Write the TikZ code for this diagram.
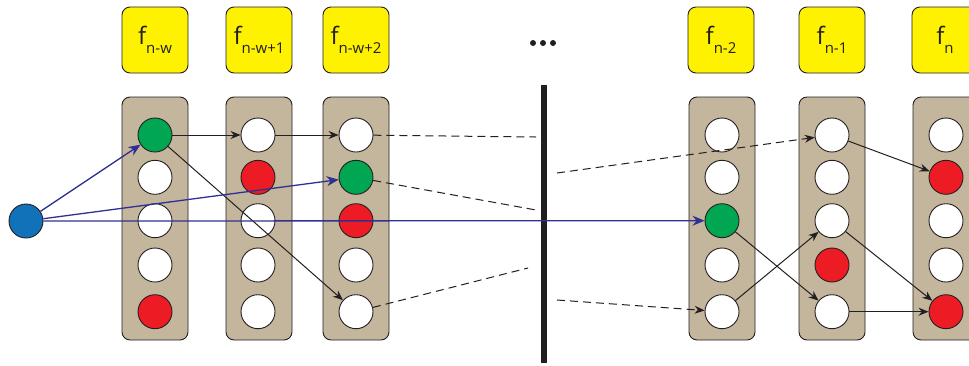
\documentclass[tikz,border=0pt]{standalone}
\usepackage{fontspec}
\setmainfont{Open Sans}
\usetikzlibrary{arrows.meta}
\definecolor{boxtan}{RGB}{196,181,157}
\definecolor{fyellow}{RGB}{255,242,0}
\definecolor{cgreen}{RGB}{0,166,81}
\definecolor{cred}{RGB}{237,28,36}
\definecolor{cblue}{RGB}{17,114,186}
\definecolor{abl}{RGB}{46,49,146}
\definecolor{dark}{RGB}{35,31,32}
\newcommand{\fsub}[1]{{\fontsize{24}{24}\selectfont f}\raisebox{-9pt}{\fontsize{15}{15}\selectfont #1}}
\begin{document}
\begin{tikzpicture}[x=1pt,y=-1pt,
  colbox/.style={draw=dark, line width=0.9pt, fill=boxtan, rounded corners=8pt, minimum width=66pt, minimum height=243pt, inner sep=0pt},
  fbox/.style={draw=dark, line width=0.9pt, fill=fyellow, rounded corners=8pt, minimum width=66pt, minimum height=66pt, inner sep=0pt, text=dark},
  cell/.style={circle, draw=dark, line width=0.9pt, minimum size=34pt, inner sep=0pt, fill=white},
  arr/.style={-{Stealth[length=10pt,width=8pt]}, line width=1pt, draw=dark},
  barr/.style={-{Stealth[length=12pt,width=10pt]}, line width=1.3pt, draw=abl},
  dsh/.style={dash pattern=on 8pt off 5pt, line width=1pt, draw=dark},
  dsharr/.style={dsh, -{Stealth[length=10pt,width=8pt]}}
]
\useasboundingbox (0,0) rectangle (969,365);
% yellow function boxes
\node[fbox] (f1) at (155,40) {\fsub{n-w}};
\node[fbox] (f2) at (259,40) {\fsub{n-w+1}};
\node[fbox] (f3) at (356,40) {\fsub{n-w+2}};
\node[fbox] (f4) at (721,40) {\fsub{n-2}};
\node[fbox] (f5) at (832,40) {\fsub{n-1}};
\node[fbox] (f6) at (945,40) {\fsub{n}};
% dots
\fill[dark] (533,43) circle (3pt) (543,43) circle (3pt) (553,43) circle (3pt);
% column boxes
\node[colbox] (b1) at (155,218.5) {};
\node[colbox] (b2) at (259,218.5) {};
\node[colbox] (b3) at (356,218.5) {};
\node[colbox] (b4) at (722,218.5) {};
\node[colbox] (b5) at (832,218.5) {};
\node[colbox] (b6) at (946,218.5) {};
% cells
\foreach \c/\x/\cols in {1/155/{cgreen,white,white,white,cred},
                          2/258/{white,cred,white,white,white},
                          3/356/{white,cgreen,cred,white,white},
                          4/722/{white,white,cgreen,white,white},
                          5/832/{white,white,white,cred,white},
                          6/946/{white,cred,white,white,cred}}{
  \foreach \col [count=\r] in \cols {
    \pgfmathsetmacro{\yy}{{135,177.3,220.7,265,311.7}[\r-1]}
    \node[cell, fill=\col] (c\c\r) at (\x,\yy) {};
  }
}
% input node
\node[cell, fill=cblue] (in) at (26,221) {};
% bar
\node[fill=dark, minimum width=6pt, minimum height=278pt, inner sep=0pt] (bar) at (544,224) {};
% free ends of dashed lines
\coordinate (d1) at (536,137);
\coordinate (d2) at (536,210);
\coordinate (d3) at (528,268);
\coordinate (e1) at (557,173);
\coordinate (e2) at (557,300);
% black arrows
\draw[arr] (c11) -- (c21);
\draw[arr] (c21) -- (c31);
\draw[arr] (c11) -- (c35);
\draw[arr] (c45) -- (c53);
\draw[arr] (c43) -- (c55);
\draw[arr] (c51) -- (c62);
\draw[arr] (c53) -- (c65);
\draw[arr] (c55) -- (c65);
% dashed
\draw[dsh] (c31) -- (d1);
\draw[dsh] (c32) -- (d2);
\draw[dsh] (c35) -- (d3);
\draw[dsharr] (e1) -- (c51);
\draw[dsharr] (e2) -- (c45);
% blue arrows
\draw[barr] (in) -- (c11);
\draw[barr] (in) -- (c32);
\draw[barr] (in) -- (c43);
\end{tikzpicture}
\end{document}
